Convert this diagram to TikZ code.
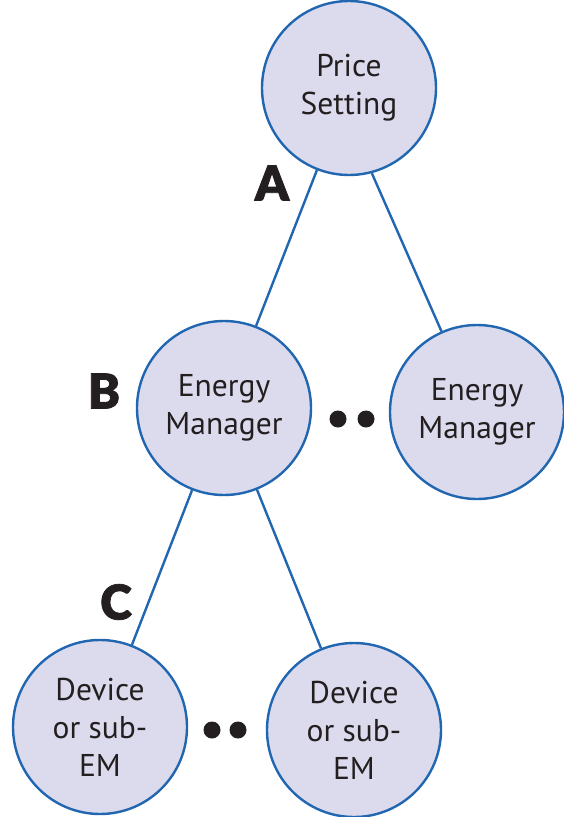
\documentclass[tikz,border=0pt]{standalone}
\usepackage{fontspec}
\setmainfont{PT Sans}
\newfontfamily\blk{Lato Black}[FakeBold=1.6]
\definecolor{edgeblue}{HTML}{2166B0}
\definecolor{nodefill}{HTML}{DCDAED}
\definecolor{ink}{HTML}{231F20}
\begin{document}
\begin{tikzpicture}[x=1pt,y=-1pt,
  circ/.style={circle,draw=edgeblue,fill=nodefill,line width=2.4pt,inner sep=0pt,minimum size=174pt,align=center,text=ink,font=\fontsize{31.5}{38}\selectfont},
  link/.style={draw=edgeblue,line width=2.4pt},
  lbl/.style={text=ink,font=\blk\fontsize{48}{48}\selectfont,inner sep=0pt},
  dot/.style={circle,fill=ink,inner sep=0pt,minimum size=17pt}]
\useasboundingbox (0,0) rectangle (563,817);
\node[circ] (price) at (349,88) {Price\\Setting};
\node[circ] (em1) at (224,408) {Energy\\Manager};
\node[circ] (em2) at (477,412) {Energy\\Manager};
\node[circ] (dev1) at (100,727) {Device\\or sub-\\EM};
\node[circ] (dev2) at (354,730) {Device\\or sub-\\EM};
\draw[link] (price) -- (em1);
\draw[link] (price.-75) -- (em2);
\draw[link] (em1) -- (dev1);
\draw[link] (em1) -- (dev2);
\node[lbl] (la) at (272,183) {A};
\node[lbl] (lb) at (104,391) {B};
\node[lbl] (lc) at (116,602) {C};
\node[dot] (d1) at (338,419) {};
\node[dot] (d2) at (366,419) {};
\node[dot] (d3) at (212,730) {};
\node[dot] (d4) at (238,730) {};
\end{tikzpicture}
\end{document}
